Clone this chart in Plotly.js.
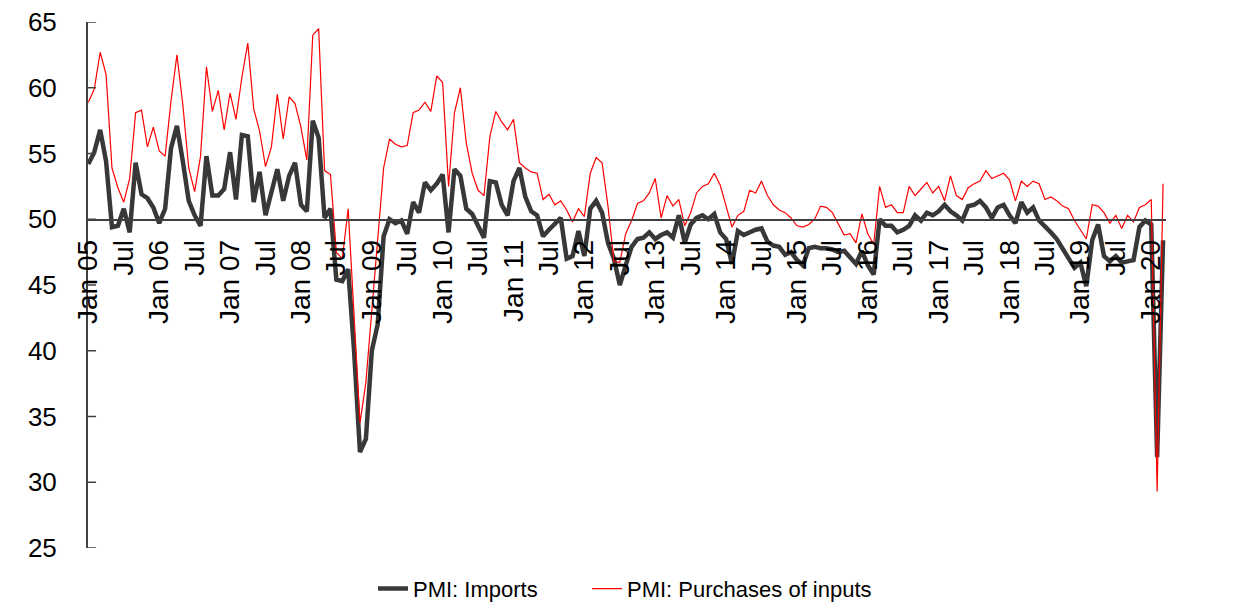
<!DOCTYPE html>
<html>
<head>
<meta charset="utf-8">
<script src="https://cdn.plot.ly/plotly-3.0.1.min.js"></script>
<style>html,body{margin:0;padding:0;background:#fff}#chart{width:1254px;height:602px}</style>
</head>
<body>
<div id="chart"></div>
<script>
// Monthly, Jan 2005 - Mar 2020
const seriesNames = ["PMI: Imports", "PMI: Purchases of inputs"];

const imports = [
54.2,55.1,56.8,54.4,49.4,49.5,50.8,49.0,54.3,51.9,51.6,50.9,
49.7,50.8,55.4,57.1,54.4,51.4,50.3,49.5,54.8,51.8,51.8,52.3,
55.1,51.5,56.4,56.3,51.3,53.6,50.3,52.0,53.8,51.4,53.3,54.3,
51.1,50.6,57.5,56.2,50.1,50.8,45.4,45.3,46.2,40.0,32.3,33.3,
40.0,42.0,48.7,50.0,49.7,49.9,48.9,51.3,50.5,52.8,52.2,52.7,
53.4,49.0,53.8,53.3,50.8,50.4,49.5,48.6,52.9,52.8,51.1,50.3,
52.9,53.9,51.7,50.6,50.3,48.7,49.2,49.6,50.1,47.0,47.2,49.1,
47.2,50.8,51.4,50.5,48.2,47.0,45.0,46.5,47.9,48.5,48.6,49.0,
48.5,48.8,49.0,48.6,50.3,48.2,49.6,50.1,50.3,50.0,50.4,49.0,
48.5,46.6,49.1,48.8,49.0,49.2,49.3,48.3,48.0,47.9,47.3,47.5,
46.9,46.5,47.8,47.9,47.8,47.8,47.7,47.5,47.6,47.1,46.6,47.6,
46.5,45.8,50.0,49.5,49.5,49.0,49.2,49.5,50.3,49.9,50.5,50.3,
50.6,51.1,50.6,50.3,49.9,51.0,51.1,51.4,50.9,50.1,50.9,51.1,
50.3,49.7,51.3,50.5,50.9,49.9,49.5,49.0,48.5,47.8,47.1,46.3,
46.7,44.9,48.4,49.6,47.2,46.8,47.2,46.7,46.8,46.9,49.4,49.9,
49.6,31.9,48.4
];

const purchases = [
58.9,59.9,62.7,61.0,53.9,52.4,51.3,53.1,58.1,58.3,55.5,57.0,
55.2,54.8,59.0,62.5,58.7,53.9,52.1,54.8,61.6,58.2,59.8,56.8,
59.6,57.6,60.8,63.4,58.4,56.7,54.0,55.5,59.5,56.1,59.3,58.8,
57.0,54.5,64.0,64.5,53.7,53.4,47.5,47.0,50.8,43.0,34.5,37.6,
43.0,49.0,53.9,56.1,55.7,55.5,55.6,58.1,58.3,58.9,58.2,60.9,
60.4,52.5,58.1,60.0,55.8,53.5,52.2,51.8,56.3,58.2,57.4,56.8,
57.6,54.3,53.9,53.6,53.5,51.5,51.9,51.1,51.4,50.7,49.8,50.8,
50.2,53.5,54.7,54.3,51.0,46.8,46.7,48.9,49.9,51.2,51.4,52.0,
53.1,50.1,51.8,51.0,51.5,49.5,50.5,52.0,52.5,52.7,53.5,52.6,
51.0,49.4,50.3,50.6,52.2,52.0,52.9,51.8,51.1,50.7,50.5,50.1,
49.5,49.4,49.6,50.0,51.0,50.9,50.5,49.6,48.8,48.9,48.2,50.4,
48.9,48.1,52.5,50.9,51.1,50.5,50.5,52.5,51.8,52.3,52.8,52.0,
52.5,51.4,53.3,51.8,51.5,52.4,52.7,52.9,53.7,53.1,53.3,53.5,
53.0,51.4,52.9,52.5,52.9,52.7,51.5,51.7,51.4,51.0,50.8,49.9,
49.2,48.5,51.1,51.0,50.5,49.7,50.3,49.3,50.3,49.8,50.9,51.1,
51.5,29.3,52.7
];

const tickMonths = [0,6,12,18,24,30,36,42,48,54,60,66,72,78,84,90,96,102,108,114,120,126,132,138,144,150,156,162,168,174,180];
const tickLabels = ["Jan 05","Jul","Jan 06","Jul","Jan 07","Jul","Jan 08","Jul","Jan 09","Jul","Jan 10","Jul","Jan 11","Jul","Jan 12","Jul","Jan 13","Jul","Jan 14","Jul","Jan 15","Jul","Jan 16","Jul","Jan 17","Jul","Jan 18","Jul","Jan 19","Jul","Jan 20"];
const yTicks = [25, 30, 35, 40, 45, 50, 55, 60, 65];

const monthIndex = imports.map((_, i) => i);

const traces = [
  {x: monthIndex, y: imports, name: seriesNames[0], type: "scatter", mode: "lines",
   line: {color: "#383838", width: 4.5}, legend: "legend"},
  {x: monthIndex, y: purchases, name: seriesNames[1], type: "scatter", mode: "lines",
   line: {color: "#ff0000", width: 1.2}, legend: "legend2"}
];

// small inward tick marks on the value axis, placed through the y scale
const tickShapes = yTicks.map(v => ({
  type: "line", xref: "x domain", yref: "y", x0: 0, x1: 0.0093, y0: v, y1: v,
  line: {color: "#404040", width: 1.5}, layer: "above"
}));

const legendFont = {size: 22, color: "#000"};
const layout = {
  width: 1254, height: 602,
  margin: {l: 86, r: 88, t: 22, b: 54},
  paper_bgcolor: "#ffffff", plot_bgcolor: "#ffffff",
  font: {family: "Liberation Sans, Arial, sans-serif", color: "#000"},
  showlegend: true,
  legend: {orientation: "h", xref: "container", x: 373 / 1254, xanchor: "left",
           yref: "container", y: 0.022, yanchor: "middle", font: legendFont},
  legend2: {orientation: "h", xref: "container", x: 587 / 1254, xanchor: "left",
            yref: "container", y: 0.022, yanchor: "middle", font: legendFont},
  shapes: tickShapes,
  xaxis: {
    range: [-0.4, 182.5], anchor: "free", position: 0.625,
    showgrid: false, zeroline: false, showline: true, linecolor: "#404040", linewidth: 1.5,
    ticks: "", tickmode: "array", tickvals: tickMonths, ticktext: tickLabels,
    tickangle: -90, tickfont: {size: 28, color: "#000"}, ticklabelstandoff: 8
  },
  yaxis: {
    range: [25, 65], tickmode: "array", tickvals: yTicks, anchor: "free", position: 0,
    showgrid: false, zeroline: false, showline: true, linecolor: "#404040", linewidth: 1.5,
    ticks: "", tickfont: {size: 26, color: "#000"}, ticklabelstandoff: 24
  }
};

Plotly.newPlot("chart", traces, layout, {staticPlot: true, displayModeBar: false});
</script>
</body>
</html>
